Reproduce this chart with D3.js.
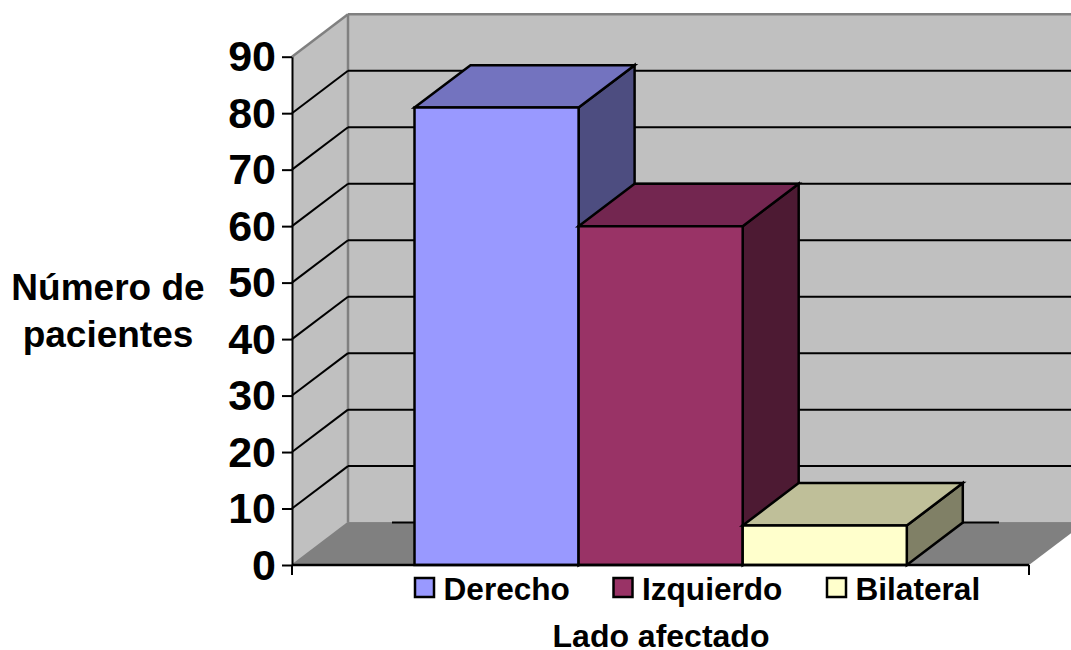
<!DOCTYPE html>
<html>
<head>
<meta charset="utf-8">
<style>
  html, body { margin: 0; padding: 0; background: #fff; }
  svg { display: block; }
  text { font-family: "Liberation Sans", Arial, sans-serif; font-weight: bold; fill: #000; }
</style>
<script src="https://cdn.jsdelivr.net/npm/d3@7"></script>
</head>
<body>
<svg id="chart" width="1071" height="650"></svg>
<script>
// Patients per affected side
const categories = ["Derecho", "Izquierdo", "Bilateral"];
const values = [81, 60, 7];
const frontColors = ["#9999FF", "#993366", "#FFFFCC"];
const topColors = ["#7373BF", "#732650", "#BFBF99"];
const sideColors = ["#4D4D80", "#4D1A33", "#808066"];
const yTicks = [0, 10, 20, 30, 40, 50, 60, 70, 80, 90];
const yTitleLines = ["Número de", "pacientes"];
const xTitle = "Lado afectado";

const svg = d3.select("#chart");

// Front plane of the 3D box and the oblique depth offset
const left = 292, right = 1029, baseY = 565, topY = 56.7;
const dx = 56, dy = 42.4;

const y = d3.scaleLinear().domain([0, 90]).range([baseY, topY]);
const x = d3.scaleBand().domain(categories).range([414.5, 906.8]);

const poly = (pts, fill, stroke, sw) => svg.append("polygon")
  .attr("points", pts.map(p => p.join(",")).join(" "))
  .attr("fill", fill)
  .attr("stroke", stroke || "none")
  .attr("stroke-width", sw || 0)
  .attr("stroke-linejoin", "miter");

const line = (x1, y1, x2, y2, color, w) => svg.append("line")
  .attr("x1", x1).attr("y1", y1).attr("x2", x2).attr("y2", y2)
  .attr("stroke", color).attr("stroke-width", w);

// Back wall, side wall and floor
poly([[left + dx, topY - dy], [1071 + dx, topY - dy], [1071 + dx, baseY - dy], [left + dx, baseY - dy]], "#C0C0C0");
poly([[left, topY], [left + dx, topY - dy], [left + dx, baseY - dy], [left, baseY]], "#C0C0C0");
poly([[left, baseY], [left + dx, baseY - dy], [right + dx, baseY - dy], [right, baseY]], "#808080");

// Walls' gray outline
line(left, topY, left + dx, topY - dy, "#808080", 2.5);
line(left + dx, topY - dy, 1071, topY - dy, "#808080", 2.5);
line(left + dx, topY - dy, left + dx, baseY - dy, "#808080", 2.5);
line(left, baseY, left + dx, baseY - dy, "#808080", 1.5);
line(left + dx, baseY - dy, 1071, baseY - dy, "#808080", 1);

// Gridlines across the side wall and the back wall
yTicks.slice(1, -1).forEach(t => {
  line(left, y(t), left + dx, y(t) - dy, "#000", 2);
  line(left + dx, y(t) - dy, 1071, y(t) - dy, "#000", 2);
});
line(392, baseY - dy, 999, baseY - dy, "#000", 2);

// Bars, left to right so each one covers the side face of its neighbour
categories.forEach((c, i) => {
  const x0 = x(c), x1 = x0 + x.bandwidth(), yv = y(values[i]);
  poly([[x1, yv], [x1 + dx, yv - dy], [x1 + dx, baseY - dy], [x1, baseY]], sideColors[i], "#000", 2.5);
  poly([[x0, yv], [x0 + dx, yv - dy], [x1 + dx, yv - dy], [x1, yv]], topColors[i], "#000", 2.5);
  poly([[x0, yv], [x1, yv], [x1, baseY], [x0, baseY]], frontColors[i], "#000", 2.5);
});

// Value axis
const yAxis = svg.append("g")
  .attr("transform", `translate(${left},0)`)
  .call(d3.axisLeft(y).tickValues(yTicks).tickSize(10).tickPadding(6).tickSizeOuter(0));
yAxis.selectAll("line").attr("stroke", "#000").attr("stroke-width", 2);
yAxis.select(".domain").attr("stroke", "#000").attr("stroke-width", 2);
yAxis.selectAll("text")
  .attr("dy", "0.33em")
  .style("font-size", "43px")
  .style("font-family", '"Liberation Sans", Arial, sans-serif')
  .style("font-weight", "bold");

// Category axis baseline with end ticks
line(left, baseY, right, baseY, "#000", 2.5);
line(left, baseY, left, baseY + 10, "#000", 2);
line(right, baseY, right, baseY + 10, "#000", 2);

// Legend
const legendX = [415, 613.5, 827];
categories.forEach((c, i) => {
  svg.append("rect").attr("x", legendX[i]).attr("y", 578).attr("width", 19).attr("height", 19)
    .attr("fill", frontColors[i]).attr("stroke", "#000").attr("stroke-width", 2.5);
  svg.append("text").attr("x", legendX[i] + 28.5).attr("y", 600).attr("font-size", 31.6).text(c);
});

// Axis titles
svg.append("text").attr("x", 661).attr("y", 647).attr("text-anchor", "middle").attr("font-size", 32).text(xTitle);
svg.append("text").attr("x", 108).attr("y", 300).attr("text-anchor", "middle").attr("font-size", 37).text(yTitleLines[0]);
svg.append("text").attr("x", 108).attr("y", 347).attr("text-anchor", "middle").attr("font-size", 37).text(yTitleLines[1]);
</script>
</body>
</html>
